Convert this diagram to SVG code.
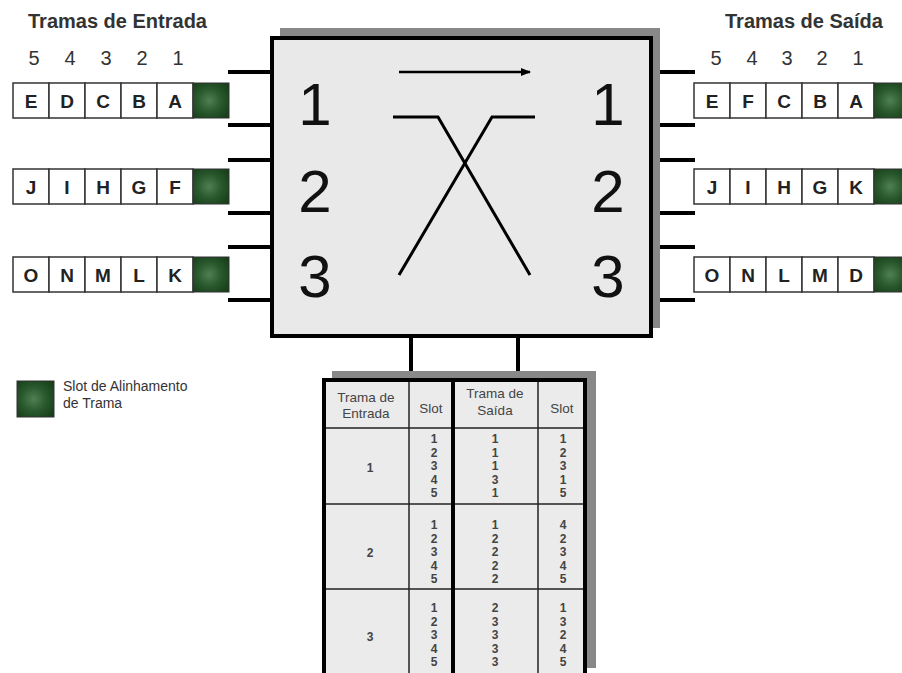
<svg xmlns="http://www.w3.org/2000/svg" width="902" height="673" viewBox="0 0 902 673">
<style>
.title{font-family:"Liberation Sans",Arial,sans-serif;font-size:20px;font-weight:bold;fill:#333}
.idx{font-family:"Liberation Sans",Arial,sans-serif;font-size:20px;fill:#333;text-anchor:middle}
.cell{fill:#fff;stroke:#333;stroke-width:1.5}
.lt{font-family:"Liberation Sans",Arial,sans-serif;font-size:19px;font-weight:bold;fill:#222;text-anchor:middle}
.grn{fill:url(#green);stroke:#333;stroke-width:1}
.pin{stroke:#000;stroke-width:4;fill:none}
.big{font-family:"Liberation Sans",Arial,sans-serif;font-size:60px;fill:#111;text-anchor:middle}
.th{font-family:"Liberation Sans",Arial,sans-serif;font-size:13.5px;fill:#444;text-anchor:middle}
.td{font-family:"Liberation Sans",Arial,sans-serif;font-size:12px;font-weight:bold;fill:#444;text-anchor:middle}
.thin{stroke:#222;stroke-width:1.5}
.thick{stroke:#000;stroke-width:4}
.leg{font-family:"Liberation Sans",Arial,sans-serif;font-size:14px;fill:#333}
</style>
<defs>
<radialGradient id="green" cx="0.45" cy="0.5" r="0.65">
<stop offset="0" stop-color="#4f8052"/>
<stop offset="0.5" stop-color="#2a5a2e"/>
<stop offset="1" stop-color="#173f1b"/>
</radialGradient>
<marker id="ah" markerWidth="10" markerHeight="8" refX="9" refY="4" orient="auto" markerUnits="userSpaceOnUse">
<path d="M0,0 L10,4 L0,8 Z" fill="#000"/>
</marker>
</defs>
<rect width="902" height="673" fill="#fff"/>

<g id="input-frames">
<text class="title" x="28" y="28">Tramas de Entrada</text>
<text class="idx" x="34" y="65">5</text>
<text class="idx" x="70" y="65">4</text>
<text class="idx" x="106" y="65">3</text>
<text class="idx" x="142" y="65">2</text>
<text class="idx" x="178" y="65">1</text>
<g id="in-row1">
<rect class="cell" x="13" y="83" width="36" height="35"/><rect class="cell" x="49" y="83" width="36" height="35"/><rect class="cell" x="85" y="83" width="36" height="35"/><rect class="cell" x="121" y="83" width="36" height="35"/><rect class="cell" x="157" y="83" width="36" height="35"/><rect class="grn" x="193" y="83" width="36" height="35"/>
<text class="lt" x="31" y="108">E</text><text class="lt" x="67" y="108">D</text><text class="lt" x="103" y="108">C</text><text class="lt" x="139" y="108">B</text><text class="lt" x="175" y="108">A</text>
</g>
<g id="in-row2">
<rect class="cell" x="13" y="169" width="36" height="35"/><rect class="cell" x="49" y="169" width="36" height="35"/><rect class="cell" x="85" y="169" width="36" height="35"/><rect class="cell" x="121" y="169" width="36" height="35"/><rect class="cell" x="157" y="169" width="36" height="35"/><rect class="grn" x="193" y="169" width="36" height="35"/>
<text class="lt" x="31" y="194">J</text><text class="lt" x="67" y="194">I</text><text class="lt" x="103" y="194">H</text><text class="lt" x="139" y="194">G</text><text class="lt" x="175" y="194">F</text>
</g>
<g id="in-row3">
<rect class="cell" x="13" y="257" width="36" height="35"/><rect class="cell" x="49" y="257" width="36" height="35"/><rect class="cell" x="85" y="257" width="36" height="35"/><rect class="cell" x="121" y="257" width="36" height="35"/><rect class="cell" x="157" y="257" width="36" height="35"/><rect class="grn" x="193" y="257" width="36" height="35"/>
<text class="lt" x="31" y="282">O</text><text class="lt" x="67" y="282">N</text><text class="lt" x="103" y="282">M</text><text class="lt" x="139" y="282">L</text><text class="lt" x="175" y="282">K</text>
</g>
</g>

<g id="output-frames">
<text class="title" x="725" y="28">Tramas de Saída</text>
<text class="idx" x="716" y="65">5</text>
<text class="idx" x="752" y="65">4</text>
<text class="idx" x="787" y="65">3</text>
<text class="idx" x="822" y="65">2</text>
<text class="idx" x="858" y="65">1</text>
<g id="out-row1">
<rect class="cell" x="694" y="83" width="36" height="35"/><rect class="cell" x="730" y="83" width="36" height="35"/><rect class="cell" x="766" y="83" width="36" height="35"/><rect class="cell" x="802" y="83" width="36" height="35"/><rect class="cell" x="838" y="83" width="36" height="35"/><rect class="grn" x="874" y="83" width="36" height="35"/>
<text class="lt" x="712" y="108">E</text><text class="lt" x="748" y="108">F</text><text class="lt" x="784" y="108">C</text><text class="lt" x="820" y="108">B</text><text class="lt" x="856" y="108">A</text>
</g>
<g id="out-row2">
<rect class="cell" x="694" y="169" width="36" height="35"/><rect class="cell" x="730" y="169" width="36" height="35"/><rect class="cell" x="766" y="169" width="36" height="35"/><rect class="cell" x="802" y="169" width="36" height="35"/><rect class="cell" x="838" y="169" width="36" height="35"/><rect class="grn" x="874" y="169" width="36" height="35"/>
<text class="lt" x="712" y="194">J</text><text class="lt" x="748" y="194">I</text><text class="lt" x="784" y="194">H</text><text class="lt" x="820" y="194">G</text><text class="lt" x="856" y="194">K</text>
</g>
<g id="out-row3">
<rect class="cell" x="694" y="257" width="36" height="35"/><rect class="cell" x="730" y="257" width="36" height="35"/><rect class="cell" x="766" y="257" width="36" height="35"/><rect class="cell" x="802" y="257" width="36" height="35"/><rect class="cell" x="838" y="257" width="36" height="35"/><rect class="grn" x="874" y="257" width="36" height="35"/>
<text class="lt" x="712" y="282">O</text><text class="lt" x="748" y="282">N</text><text class="lt" x="784" y="282">L</text><text class="lt" x="820" y="282">M</text><text class="lt" x="856" y="282">D</text>
</g>
</g>

<g id="connectors">
<path class="pin" d="M228,72H272M228,125H272M228,160H272M228,213H272M228,247H272M228,300H272"/>
<path class="pin" d="M651,72H695M651,125H695M651,160H695M651,213H695M651,247H695M651,300H695"/>
<path class="pin" d="M411,336V380M518,336V380"/>
</g>

<g id="switch">
<rect x="280" y="28" width="380" height="300" fill="#888"/>
<rect x="272" y="38" width="379" height="298" fill="#e9e9e9" stroke="#000" stroke-width="4"/>
<text class="big" x="315" y="125">1</text>
<text class="big" x="315" y="212">2</text>
<text class="big" x="315" y="297">3</text>
<text class="big" x="608" y="125">1</text>
<text class="big" x="608" y="212">2</text>
<text class="big" x="608" y="297">3</text>
<line x1="399" y1="72" x2="530" y2="72" stroke="#000" stroke-width="2.5" marker-end="url(#ah)"/>
<path d="M393,117H438L530,275" fill="none" stroke="#000" stroke-width="3"/>
<path d="M535,117H492L399,275" fill="none" stroke="#000" stroke-width="3"/>
</g>

<g id="legend">
<rect class="grn" x="17" y="381" width="37" height="36"/>
<text class="leg" x="63" y="391">Slot de Alinhamento</text>
<text class="leg" x="63" y="408">de Trama</text>
</g>

<g id="table">
<rect x="332" y="371" width="264" height="297" fill="#888"/>
<rect x="324" y="380" width="261" height="310" fill="#ebebeb"/>
<line class="thin" x1="409" y1="380" x2="409" y2="690"/>
<line class="thin" x1="538" y1="380" x2="538" y2="690"/>
<line class="thin" x1="324" y1="428" x2="585" y2="428"/>
<line class="thin" x1="324" y1="504" x2="585" y2="504"/>
<line class="thin" x1="324" y1="589" x2="585" y2="589"/>
<line class="thick" x1="453" y1="380" x2="453" y2="690"/>
<rect x="324" y="380" width="261" height="310" fill="none" stroke="#000" stroke-width="4"/>
<text class="th" x="366" y="402">Trama de</text>
<text class="th" x="366" y="418">Entrada</text>
<text class="th" x="431" y="413">Slot</text>
<text class="th" x="495" y="398">Trama de</text>
<text class="th" x="495" y="415">Saída</text>
<text class="th" x="562" y="413">Slot</text>
<text class="td" x="370" y="472">1</text>
<text class="td" x="370" y="557">2</text>
<text class="td" x="370" y="641">3</text>
<text class="td" x="434" y="443"><tspan x="434">1</tspan><tspan x="434" dy="13.5">2</tspan><tspan x="434" dy="13.5">3</tspan><tspan x="434" dy="13.5">4</tspan><tspan x="434" dy="13.5">5</tspan></text>
<text class="td" x="495" y="443"><tspan x="495">1</tspan><tspan x="495" dy="13.5">1</tspan><tspan x="495" dy="13.5">1</tspan><tspan x="495" dy="13.5">3</tspan><tspan x="495" dy="13.5">1</tspan></text>
<text class="td" x="563" y="443"><tspan x="563">1</tspan><tspan x="563" dy="13.5">2</tspan><tspan x="563" dy="13.5">3</tspan><tspan x="563" dy="13.5">1</tspan><tspan x="563" dy="13.5">5</tspan></text>
<text class="td" x="434" y="529"><tspan x="434">1</tspan><tspan x="434" dy="13.5">2</tspan><tspan x="434" dy="13.5">3</tspan><tspan x="434" dy="13.5">4</tspan><tspan x="434" dy="13.5">5</tspan></text>
<text class="td" x="495" y="529"><tspan x="495">1</tspan><tspan x="495" dy="13.5">2</tspan><tspan x="495" dy="13.5">2</tspan><tspan x="495" dy="13.5">2</tspan><tspan x="495" dy="13.5">2</tspan></text>
<text class="td" x="563" y="529"><tspan x="563">4</tspan><tspan x="563" dy="13.5">2</tspan><tspan x="563" dy="13.5">3</tspan><tspan x="563" dy="13.5">4</tspan><tspan x="563" dy="13.5">5</tspan></text>
<text class="td" x="434" y="612"><tspan x="434">1</tspan><tspan x="434" dy="13.5">2</tspan><tspan x="434" dy="13.5">3</tspan><tspan x="434" dy="13.5">4</tspan><tspan x="434" dy="13.5">5</tspan></text>
<text class="td" x="495" y="612"><tspan x="495">2</tspan><tspan x="495" dy="13.5">3</tspan><tspan x="495" dy="13.5">3</tspan><tspan x="495" dy="13.5">3</tspan><tspan x="495" dy="13.5">3</tspan></text>
<text class="td" x="563" y="612"><tspan x="563">1</tspan><tspan x="563" dy="13.5">3</tspan><tspan x="563" dy="13.5">2</tspan><tspan x="563" dy="13.5">4</tspan><tspan x="563" dy="13.5">5</tspan></text>
</g>
</svg>
